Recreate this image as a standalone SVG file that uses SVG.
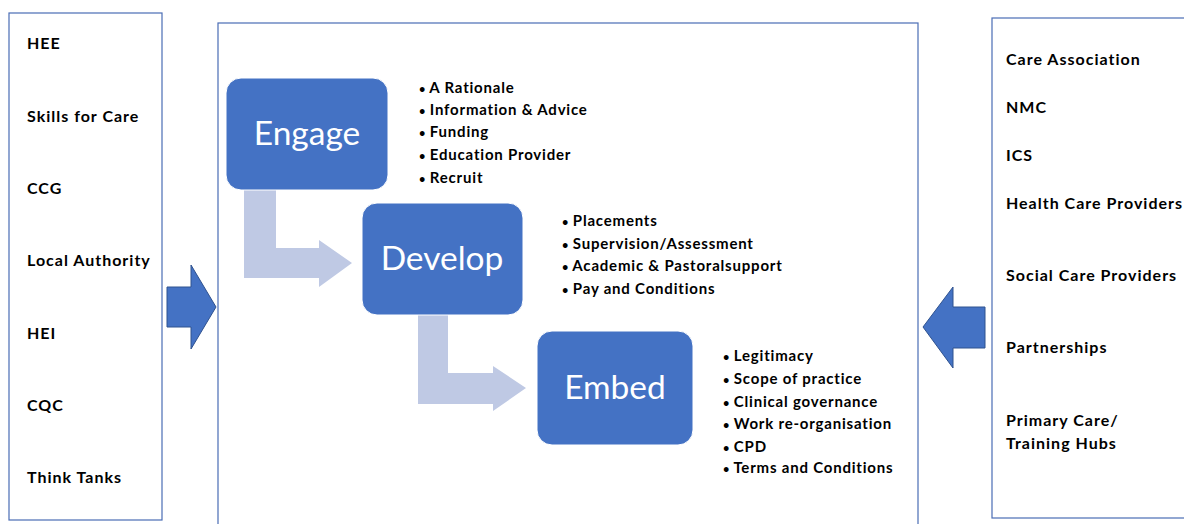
<svg xmlns="http://www.w3.org/2000/svg" width="1184" height="524" viewBox="0 0 1184 524">
<style>
.frame{fill:#fff;stroke:#4a6db5;stroke-width:1.2}
.stage{fill:#4472c4;stroke:#fff;stroke-width:1}
.stagelbl{font-family:Lato,"Open Sans",sans-serif;font-size:33.5px;fill:#fff;text-anchor:middle}
.lbl{font-family:Lato,"Liberation Sans",sans-serif;font-weight:bold;font-size:16px;letter-spacing:1px;fill:#000}
.bul{font-family:Lato,"Liberation Sans",sans-serif;font-weight:bold;font-size:15px;letter-spacing:0.8px;fill:#000}
.dot{font-size:11px;letter-spacing:0}
.big{fill:#4472c4;stroke:#2f528f;stroke-width:1}
.flow{fill:#bfc9e4}
</style>
<rect width="1184" height="524" fill="#fff"/>
<g id="left-box">
<rect class="frame" x="9" y="13" width="153" height="507"/>
<text class="lbl" x="27" y="49">HEE</text>
<text class="lbl" x="27" y="122">Skills for Care</text>
<text class="lbl" x="27" y="194">CCG</text>
<text class="lbl" x="27" y="266">Local Authority</text>
<text class="lbl" x="27" y="339">HEI</text>
<text class="lbl" x="27" y="411">CQC</text>
<text class="lbl" x="27" y="483">Think Tanks</text>
</g>
<g id="center-box">
<rect class="frame" x="218" y="23" width="700" height="510"/>
</g>
<g id="right-box">
<rect class="frame" x="992" y="18" width="200" height="500"/>
<text class="lbl" x="1006" y="65">Care Association</text>
<text class="lbl" x="1006" y="113">NMC</text>
<text class="lbl" x="1006" y="161">ICS</text>
<text class="lbl" x="1006" y="209">Health Care Providers</text>
<text class="lbl" x="1006" y="281">Social Care Providers</text>
<text class="lbl" x="1006" y="353">Partnerships</text>
<text class="lbl" x="1006" y="426">Primary Care/</text>
<text class="lbl" x="1006" y="449">Training Hubs</text>
</g>
<g id="connectors">
<polygon class="big" points="167,287 191,287 191,265 216,307 191,349 191,327 167,327"/>
<polygon class="big" points="923,327 953,287 953,307 985,307 985,348 953,348 953,368"/>
<polygon class="flow" points="244,190 276,190 276,248 319,248 319,240 352,263 319,287 319,278 244,278"/>
<polygon class="flow" points="418,315 448,315 448,373 493,373 493,366 526,388 493,411 493,404 418,404"/>
</g>
<g id="engage">
<rect class="stage" x="226" y="78" width="162" height="112" rx="15"/>
<text class="stagelbl" x="307" y="145">Engage</text>
<text class="bul" x="419" y="93"><tspan class="dot">•</tspan> A Rationale</text>
<text class="bul" x="419" y="115"><tspan class="dot">•</tspan> Information &amp; Advice</text>
<text class="bul" x="419" y="137"><tspan class="dot">•</tspan> Funding</text>
<text class="bul" x="419" y="160"><tspan class="dot">•</tspan> Education Provider</text>
<text class="bul" x="419" y="183"><tspan class="dot">•</tspan> Recruit</text>
</g>
<g id="develop">
<rect class="stage" x="362" y="203" width="161" height="112" rx="15"/>
<text class="stagelbl" x="442" y="270">Develop</text>
<text class="bul" x="562" y="226"><tspan class="dot">•</tspan> Placements</text>
<text class="bul" x="562" y="249"><tspan class="dot">•</tspan> Supervision/Assessment</text>
<text class="bul" x="562" y="271"><tspan class="dot">•</tspan> Academic &amp; Pastoralsupport</text>
<text class="bul" x="562" y="294"><tspan class="dot">•</tspan> Pay and Conditions</text>
</g>
<g id="embed">
<rect class="stage" x="537" y="331" width="156" height="114" rx="15"/>
<text class="stagelbl" x="615" y="399">Embed</text>
<text class="bul" x="723" y="361"><tspan class="dot">•</tspan> Legitimacy</text>
<text class="bul" x="723" y="384"><tspan class="dot">•</tspan> Scope of practice</text>
<text class="bul" x="723" y="407"><tspan class="dot">•</tspan> Clinical governance</text>
<text class="bul" x="723" y="429"><tspan class="dot">•</tspan> Work re-organisation</text>
<text class="bul" x="723" y="452"><tspan class="dot">•</tspan> CPD</text>
<text class="bul" x="723" y="473"><tspan class="dot">•</tspan> Terms and Conditions</text>
</g>
</svg>
